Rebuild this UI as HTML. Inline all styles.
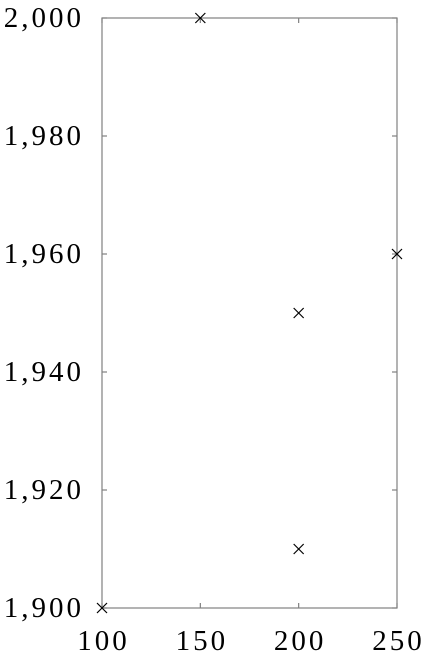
<!DOCTYPE html>
<html><head><meta charset="utf-8"><style>
html,body{margin:0;padding:0;background:#fff;}
svg{display:block;font-family:"Liberation Serif",serif;}
</style></head><body>
<svg id="chart" width="427" height="655" viewBox="0 0 427 655"></svg>
<script>
const xValues=[100,150,200,200,250];
const yValues=[1900,2000,1950,1910,1960];
const xTicks=[100,150,200,250];
const yTicks=[1900,1920,1940,1960,1980,2000];
const yTickLabels=["1,900","1,920","1,940","1,960","1,980","2,000"];
const xTickLabels=["100","150","200","250"];
const L=102,R=397,T=18,B=608;
const sx=v=>L+(v-100)/(250-100)*(R-L);
const sy=v=>B-(v-1900)/(2000-1900)*(B-T);
const svg=document.getElementById('chart');
const NS='http://www.w3.org/2000/svg';
function mk(tag,attrs,parent){const e=document.createElementNS(NS,tag);for(const k in attrs)e.setAttribute(k,attrs[k]);(parent||svg).appendChild(e);return e;}
const frame=mk('rect',{x:L,y:T,width:R-L,height:B-T,fill:'none',stroke:'#808080','stroke-width':1.2});


const xg=mk('g',{});


xTicks.forEach((v,i)=>{
  const x=sx(v);
  mk('line',{x1:x,x2:x,y1:B,y2:B-5,stroke:'#808080','stroke-width':1.2},xg);
  mk('line',{x1:x,x2:x,y1:T,y2:T+5,stroke:'#808080','stroke-width':1.2},xg);
  const t=mk('text',{x:x+1.5,y:650,'text-anchor':'middle','font-size':29,'letter-spacing':3},xg);
  t.textContent=xTickLabels[i];
  
  
});
const yg=mk('g',{});


yTicks.forEach((v,i)=>{
  const y=sy(v);
  mk('line',{x1:L,x2:L+5,y1:y,y2:y,stroke:'#808080','stroke-width':1.2},yg);
  mk('line',{x1:R,x2:R-5,y1:y,y2:y,stroke:'#808080','stroke-width':1.2},yg);
  const t=mk('text',{x:84,y:y+9,'text-anchor':'end','font-size':29,'letter-spacing':3},yg);
  t.textContent=yTickLabels[i];
  
  
});
const pg=mk('g',{});


xValues.forEach((xv,i)=>{
  const x=sx(xv),y=sy(yValues[i]),s=5;
  const g=mk('g',{stroke:'#000','stroke-width':1.2},pg);
  
  
  mk('line',{x1:x-s,y1:y-s,x2:x+s,y2:y+s},g);
  mk('line',{x1:x-s,y1:y+s,x2:x+s,y2:y-s},g);
});
</script>
</body></html>
